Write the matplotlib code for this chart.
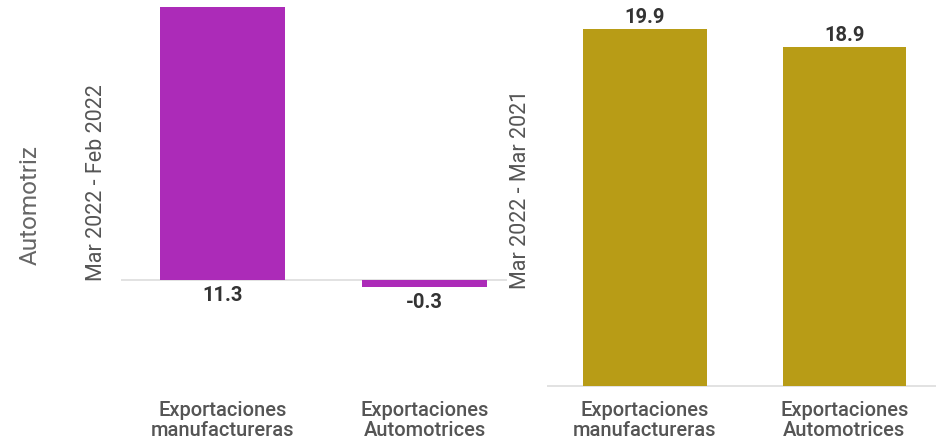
import matplotlib
matplotlib.use("Agg")
import matplotlib.pyplot as plt

categories = ["Exportaciones\nmanufactureras", "Exportaciones\nAutomotrices"]
monthly_values = [11.3, -0.3]
annual_values = [19.9, 18.9]
monthly_label = "Mar 2022 - Feb 2022"
annual_label = "Mar 2022 - Mar 2021"
row_label = "Automotriz"

purple = "#AC2BB8"
olive = "#B89C16"

plt.rcParams['font.family'] = ['Roboto', 'DejaVu Sans']

W, H = 936, 441
fig = plt.figure(figsize=(W / 100, H / 100), dpi=100)

def px_axes(x0, x1, y0, y1):
    return fig.add_axes([x0 / W, 1 - y1 / H, (x1 - x0) / W, (y1 - y0) / H])

# Left panel
ax1 = px_axes(121, 507, 0, 395)
ax1.bar(range(len(categories)), monthly_values, width=0.62, color=purple)
ax1.set_xlim(-0.5025, 1.408)
ax1.set_ylim(-4.75, 11.57)
ax1.axhline(0, color="#dddddd", lw=1.2, zorder=0)
for i, v in enumerate(monthly_values):
    ax1.annotate(f"{v:.1f}", (i, min(v, 0)), xytext=(0, -4), textcoords="offset points",
                 ha="center", va="top", fontsize=14.5, fontweight="bold", color="#333333")

# Right panel
ax2 = px_axes(547, 936, 0, 395)
ax2.bar(range(len(categories)), annual_values, width=0.62, color=olive)
ax2.set_xlim(-0.491, 1.459)
ax2.set_ylim(-0.5, 21.5)
ax2.axhline(0, color="#dddddd", lw=1.2, zorder=0)
for i, v in enumerate(annual_values):
    ax2.annotate(f"{v:.1f}", (i, v), xytext=(0, 1), textcoords="offset points",
                 ha="center", va="bottom", fontsize=14.5, fontweight="bold", color="#333333")

for ax in (ax1, ax2):
    for s in ax.spines.values():
        s.set_visible(False)
    ax.set_yticks([])
    ax.set_xticks(range(len(categories)))
    ax.set_xticklabels(categories, fontsize=14.5, color="#555555", linespacing=1.12,
                       fontweight="medium")
    ax.tick_params(axis="x", length=0, pad=4)

fig.text(30 / W, 1 - 205 / H, row_label, rotation=90, ha="center", va="center",
         fontsize=17.5, color="#666666")
fig.text(97 / W, 1 - 183 / H, monthly_label, rotation=90, ha="center", va="center",
         fontsize=15.5, color="#555555")
fig.text(520 / W, 1 - 189 / H, annual_label, rotation=90, ha="center", va="center",
         fontsize=15.5, color="#555555")

fig.savefig("out.png", dpi=100)
